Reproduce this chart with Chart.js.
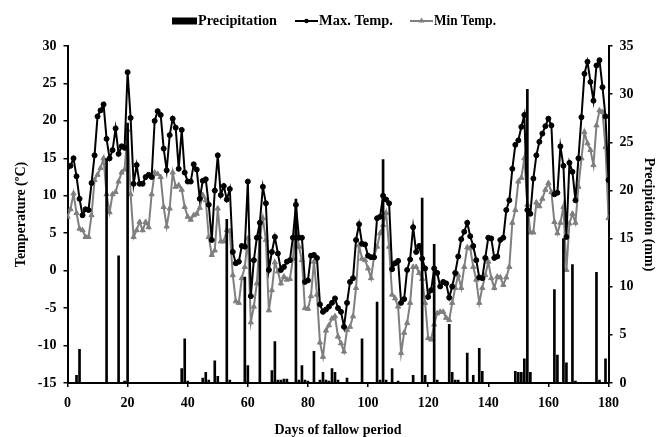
<!DOCTYPE html>
<html>
<head>
<meta charset="utf-8">
<script src="https://cdn.jsdelivr.net/npm/chart.js@4.4.1/dist/chart.umd.min.js"></script>
<style>
  html, body { margin: 0; padding: 0; background: #fff; }
  #wrap { width: 656px; height: 437px; position: relative; }
</style>
</head>
<body>
<div id="wrap"><canvas id="chartWeather"></canvas></div>
<script>
// day index of the fallow period
const days = Array.from({ length: 181 }, (_, i) => i);

// daily max temperature (ºC), day 0..180
const maxTemp = [
  13.8, 14.0, 15.0, 12.6, 9.6, 7.4, 8.2, 8.1, 11.7, 15.4,
  20.6, 21.4, 22.2, 17.6, 15.0, 16.1, 19.0, 15.6, 16.6, 16.4,
  26.5, 20.4, 11.6, 14.1, 11.6, 11.6, 12.5, 12.8, 12.5, 20.0,
  21.3, 20.8, 16.3, 13.4, 18.1, 20.3, 19.1, 13.6, 18.8, 13.1,
  11.9, 11.9, 14.2, 13.5, 9.6, 12.0, 12.2, 8.8, 4.1, 10.7,
  15.4, 10.1, 11.3, 9.5, 10.9, 2.5, 1.0, 1.2, 3.3, 3.2,
  11.9, -3.4, 1.4, 4.4, 6.4, 11.2, 9.0, 0.1, 2.5, 4.5,
  2.3, 0.1, 0.5, 1.2, 1.4, 4.4, 8.8, 4.4, 4.4, -1.5,
  -1.3, 2.0, 2.1, 1.7, -4.5, -5.5, -5.2, -4.8, -4.3, -3.7,
  -5.0, -5.5, -7.5, -4.3, -1.5, -1.0, 4.1, 6.2, 3.6, 3.5,
  2.0, 1.8, 1.8, 7.0, 7.2, 10.0, 9.5, 9.0, 0.2, 1.0,
  1.3, -4.3, -3.8, 0.1, 1.5, 5.8, 2.5, 3.3, 1.6, 0.3,
  -3.5, -2.6, 0.3, -0.3, -2.1, -1.5, -1.7, -3.6, -2.1, -0.3,
  1.9, 4.2, 5.2, 6.4, 4.6, 3.3, 1.4, -0.9, -1.0, 1.7,
  4.4, 4.3, 1.7, 1.9, 4.1, 4.4, 8.1, 9.4, 13.6, 16.8,
  17.4, 19.2, 20.8, 8.1, 7.6, 12.3, 15.4, 17.2, 18.3, 19.3,
  20.3, 19.4, 10.2, 10.4, 16.6, 14.0, 4.5, 14.4, 13.2, 9.4,
  15.0, 20.5, 26.3, 27.9, 25.2, 22.7, 27.4, 28.1, 24.5, 20.6,
  12.1
];

// daily min temperature (ºC), day 0..180
const minTemp = [
  7.2, 8.2, 10.3, 7.7, 5.6, 5.4, 4.5, 4.5, 7.4, 12.1,
  12.8, 13.7, 15.0, 10.2, 7.8, 10.2, 10.5, 11.9, 13.1, 13.5,
  18.8, 10.2, 4.5, 5.4, 6.5, 5.4, 6.5, 5.8, 10.2, 13.1,
  12.9, 12.5, 8.5, 5.9, 8.3, 13.1, 11.2, 11.4, 10.8, 8.5,
  7.2, 6.8, 7.4, 7.6, 8.4, 10.1, 9.4, 4.5, 2.1, 2.7,
  8.3, 3.9, 3.9, 5.4, 5.3, -0.6, -4.1, -4.3, -1.0, 0.5,
  4.3, -6.9, -4.8, -1.7, 4.5, 7.0, 4.1, -5.3, -2.6, 1.1,
  -0.1, -1.7, -0.8, -1.2, -1.1, 1.6, 5.9, 3.2, 1.4, -5.0,
  -5.1, -3.4, 1.2, -3.2, -9.6, -11.5, -8.0, -7.3, -6.4, -6.1,
  -8.8, -9.7, -10.8, -7.9, -7.5, -6.1, -2.3, 3.4, 1.6, 1.4,
  0.3, -1.0, 1.9, 3.2, 5.0, 6.1, 7.7, 3.2, -3.2, -3.7,
  -4.8, -11.0, -8.3, -7.0, -4.3, 0.5, 0.5, -0.3, -1.1, -4.3,
  -9.0, -9.2, -7.2, -5.7, -5.5, -5.5, -6.3, -6.6, -4.3, -2.3,
  -0.6, -2.3, 0.5, 3.1, 3.0, 0.5, -1.2, -4.3, -2.3, -0.6,
  1.2, -1.0, -2.3, -0.8, -0.9, -1.9, -0.9, 0.5, 6.4, 8.1,
  11.9, 12.4, 15.0, 8.8, 5.1, 5.1, 9.1, 8.6, 9.6, 10.8,
  11.7, 10.5, 6.5, 5.0, 6.4, 8.5, 0.1, 6.3, 7.6, 6.4,
  11.2, 15.0, 18.5, 17.0, 16.1, 14.1, 19.4, 21.4, 21.2, 16.5,
  7.0
];

// rainy days and their precipitation (mm)
const rainDays = [
  3, 4, 13, 17, 19, 20, 38, 39, 40, 45, 46, 47, 49, 50, 53, 54, 59, 60, 64,
  68, 69, 70, 71, 72, 73, 76, 77, 78, 79, 80, 82, 84, 85, 86, 87, 88, 89, 90,
  93, 98, 103, 104, 105, 106, 108, 110, 115, 118, 119, 122, 123, 127, 128, 129,
  130, 133, 135, 137, 138, 149, 150, 151, 152, 153, 154, 162, 163, 165, 166,
  168, 169, 176, 177, 179
];
const rainMm = [
  0.8, 3.5, 23.3, 13.2, 0.2, 27.0, 1.5, 4.6, 0.2, 0.5, 1.1, 0.3, 2.3, 0.7, 17.0, 0.3, 11.0, 1.8, 16.6,
  1.3, 4.3, 0.3, 0.3, 0.4, 0.4, 19.1, 0.3, 1.8, 0.3, 0.2, 3.3, 0.3, 1.1, 0.3, 0.2, 1.5, 1.1, 0.3,
  0.5, 4.6, 8.4, 0.3, 23.2, 0.3, 1.5, 0.2, 0.8, 19.2, 0.8, 14.4, 0.3, 6.1, 1.1, 0.3,
  0.3, 3.1, 0.8, 3.6, 1.2, 1.2, 1.1, 1.1, 2.5, 30.5, 1.1, 9.7, 2.9, 15.0, 2.1,
  12.3, 0.2, 11.5, 0.3, 2.5
];

const serif = '"Liberation Serif", "Times New Roman", serif';
const grey = '#7f7f7f';

Chart.defaults.font.family = serif;
Chart.defaults.font.weight = 'bold';
Chart.defaults.font.size = 14;
Chart.defaults.color = '#000';

// legend drawn by hand, excel style (box, line+dot, line+triangle)
const topLegend = {
  id: 'topLegend',
  afterDraw(chart) {
    const c = chart.ctx;
    const y = 21;
    c.save();
    c.font = 'bold 15px ' + serif;
    c.textBaseline = 'middle';
    c.textAlign = 'left';

    c.fillStyle = '#000';
    c.fillRect(172, 17.5, 25, 7);
    c.fillText('Precipitation', 198, y, 79);

    c.strokeStyle = '#000';
    c.lineWidth = 2;
    c.beginPath(); c.moveTo(295, y); c.lineTo(318, y); c.stroke();
    c.beginPath(); c.arc(306.5, y, 2.2, 0, Math.PI * 2); c.fill();
    c.fillText('Max. Temp.', 319, y, 74);

    c.strokeStyle = grey;
    c.fillStyle = grey;
    c.beginPath(); c.moveTo(410, y); c.lineTo(433, y); c.stroke();
    c.beginPath(); c.moveTo(421.5, y - 3.5); c.lineTo(424.5, y + 1.5); c.lineTo(418.5, y + 1.5); c.closePath(); c.fill();
    c.fillStyle = '#000';
    c.fillText('Min Temp.', 434, y, 62);
    c.restore();
  }
};

const axisGrid = {
  display: true,
  drawOnChartArea: false,
  drawTicks: true,
  tickLength: 4,
  color: '#000',
  lineWidth: 1.5
};
const axisBorder = { display: true, color: '#000', width: 2 };

new Chart(document.getElementById('chartWeather'), {
  type: 'line',
  data: {
    labels: days,
    datasets: [
      {
        type: 'bar',
        label: 'Precipitation',
        data: rainDays.map((d, i) => ({ x: d, y: rainMm[i] })),
        yAxisID: 'yRain',
        backgroundColor: '#000',
        barThickness: 2,
        order: 1
      },
      {
        label: 'Max. Temp.',
        data: maxTemp,
        yAxisID: 'y',
        borderColor: '#000',
        backgroundColor: '#000',
        borderWidth: 2,
        pointStyle: 'circle',
        pointRadius: 2.5,
        pointBorderWidth: 1,
        tension: 0,
        order: 2
      },
      {
        label: 'Min Temp.',
        data: minTemp,
        yAxisID: 'y',
        borderColor: grey,
        backgroundColor: grey,
        borderWidth: 2,
        pointStyle: 'triangle',
        pointRadius: 3,
        pointBorderWidth: 1,
        tension: 0,
        order: 3
      }
    ]
  },
  options: {
    responsive: true,
    maintainAspectRatio: false,
    animation: false,
    layout: { padding: { top: 46, left: 0, right: 0, bottom: 0 } },
    plugins: {
      legend: { display: false },
      tooltip: { enabled: false }
    },
    scales: {
      x: {
        type: 'linear',
        min: 0,
        max: 180,
        offset: false,
        grid: { ...axisGrid, offset: false },
        border: axisBorder,
        ticks: { stepSize: 20, padding: 8, maxRotation: 0 },
        title: {
          display: true,
          text: 'Days of fallow period',
          font: { size: 14, weight: 'bold', lineHeight: 1 },
          padding: { top: 0, bottom: 0 }
        },
        afterFit: s => { s.height = 54; }
      },
      y: {
        position: 'left',
        min: -15,
        max: 30,
        grid: axisGrid,
        border: axisBorder,
        ticks: { stepSize: 5, padding: 7 },
        title: {
          display: true,
          text: 'Temperature (ºC)',
          font: { size: 14, weight: 'bold', lineHeight: 1 },
          padding: { top: 14, bottom: 0 }
        },
        afterFit: s => { s.width = 67.5; }
      },
      yRain: {
        position: 'right',
        min: 0,
        max: 35,
        grid: axisGrid,
        border: axisBorder,
        ticks: { stepSize: 5, padding: 7 },
        title: {
          display: true,
          text: 'Precipitation (mm)',
          font: { size: 14, weight: 'bold', lineHeight: 1 },
          padding: { top: 0, bottom: 0 }
        },
        afterFit: s => { s.width = 47.5; }
      }
    }
  },
  plugins: [topLegend]
});
</script>
</body>
</html>
